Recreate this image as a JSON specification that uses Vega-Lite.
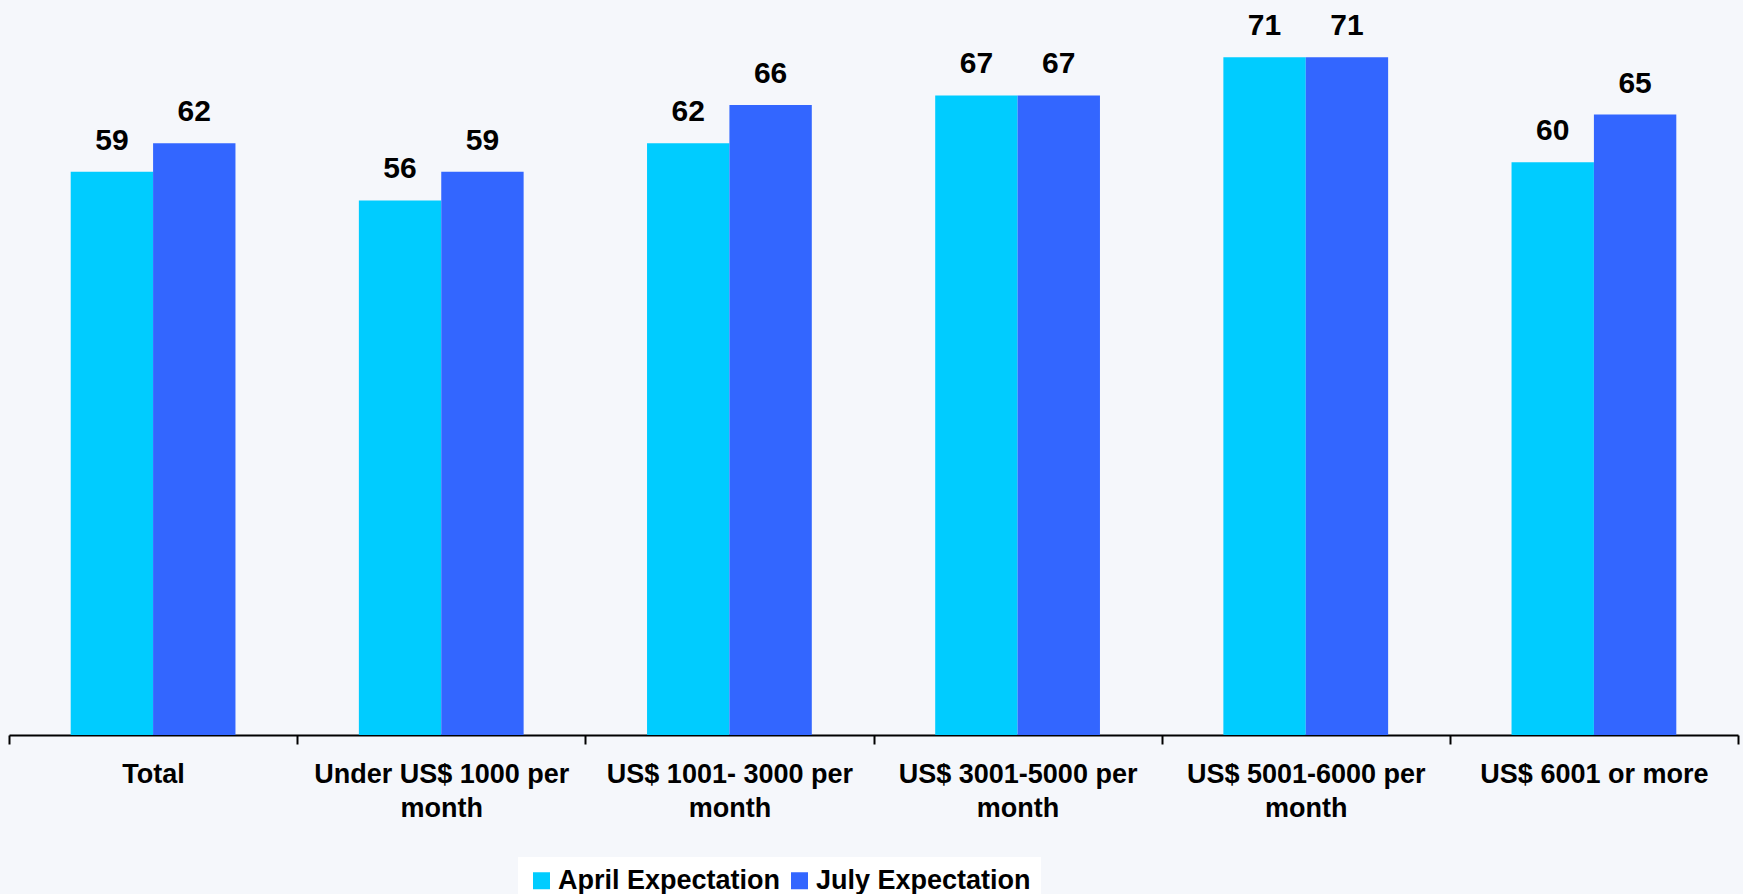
{
  "$schema": "https://vega.github.io/schema/vega-lite/v6.json",
  "width": 1729,
  "height": 735,
  "autosize": {"type": "none"},
  "padding": {"left": 9, "right": 5, "top": 0, "bottom": 159},
  "background": "#f5f7fb",
  "config": {
    "view": {"stroke": null},
    "font": "Liberation Sans"
  },
  "data": {
    "values": [
      {"income": "Total", "series": "April Expectation", "value": 59},
      {"income": "Total", "series": "July Expectation", "value": 62},
      {"income": "Under US$ 1000 per month", "series": "April Expectation", "value": 56},
      {"income": "Under US$ 1000 per month", "series": "July Expectation", "value": 59},
      {"income": "US$ 1001- 3000 per month", "series": "April Expectation", "value": 62},
      {"income": "US$ 1001- 3000 per month", "series": "July Expectation", "value": 66},
      {"income": "US$ 3001-5000 per month", "series": "April Expectation", "value": 67},
      {"income": "US$ 3001-5000 per month", "series": "July Expectation", "value": 67},
      {"income": "US$ 5001-6000 per month", "series": "April Expectation", "value": 71},
      {"income": "US$ 5001-6000 per month", "series": "July Expectation", "value": 71},
      {"income": "US$ 6001 or more", "series": "April Expectation", "value": 60},
      {"income": "US$ 6001 or more", "series": "July Expectation", "value": 65}
    ]
  },
  "encoding": {
    "x": {
      "field": "income",
      "type": "nominal",
      "sort": null,
      "scale": {"paddingInner": 0, "paddingOuter": 0},
      "axis": {
        "title": null,
        "labelAngle": 0,
        "labelFont": "Liberation Sans",
        "labelFontSize": 27,
        "labelFontWeight": "bold",
        "labelColor": "#000000",
        "labelLimit": 0,
        "labelPadding": 17,
        "labelLineHeight": 34,
        "labelExpr": "split(replace(datum.label, 'per month', 'per|month'), '|')",
        "tickBand": "extent",
        "tickSize": 9,
        "tickWidth": 2,
        "tickColor": "#000000",
        "domainColor": "#000000",
        "domainWidth": 2,
        "grid": false
      }
    },
    "xOffset": {
      "field": "series",
      "type": "nominal",
      "sort": ["April Expectation", "July Expectation"],
      "scale": {"paddingInner": 0, "paddingOuter": 0.749}
    },
    "y": {
      "field": "value",
      "type": "quantitative",
      "scale": {"domain": [0, 77], "nice": false, "zero": true},
      "axis": null
    }
  },
  "layer": [
    {
      "mark": {"type": "bar"},
      "encoding": {
        "color": {
          "field": "series",
          "type": "nominal",
          "sort": ["April Expectation", "July Expectation"],
          "scale": {
            "domain": ["April Expectation", "July Expectation"],
            "range": ["#00ccff", "#3366ff"]
          },
          "legend": {
            "title": null,
            "orient": "none",
            "direction": "horizontal",
            "legendX": 509,
            "legendY": 857,
            "fillColor": "#ffffff",
            "padding": 10,
            "symbolType": "square",
            "symbolSize": 289,
            "symbolStrokeWidth": 0,
            "labelFont": "Liberation Sans",
            "labelFontSize": 27,
            "labelFontWeight": "bold",
            "labelColor": "#000000",
            "labelOffset": 3,
            "columnPadding": 5,
            "labelLimit": 0
          }
        }
      }
    },
    {
      "mark": {
        "type": "text",
        "dy": -22,
        "baseline": "alphabetic",
        "align": "center",
        "font": "Liberation Sans",
        "fontSize": 30,
        "fontWeight": "bold",
        "color": "#000000"
      },
      "encoding": {
        "text": {"field": "value", "type": "quantitative"}
      }
    }
  ]
}
